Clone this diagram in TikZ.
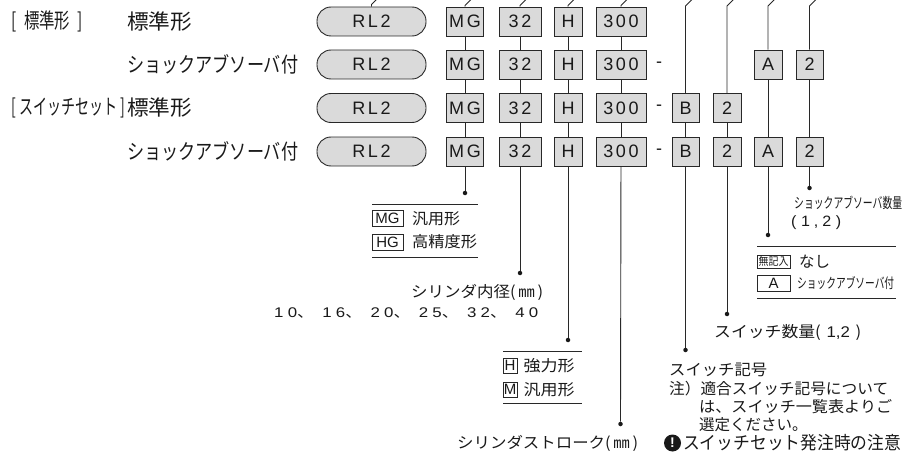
\documentclass[tikz,border=0pt]{standalone}
\usepackage{fontspec}
\usepackage{graphicx}
\setmainfont{Liberation Sans}
\newfontfamily\jp{Noto Sans CJK JP}
\newfontfamily\boxfont[LetterSpace=15]{Liberation Sans}
\newfontfamily\numfont[LetterSpace=25]{Liberation Sans}
\newcommand\wfit[2]{\resizebox{#1}{\height}{#2}}
\newcommand\fsz[1]{\fontsize{#1}{#1}\selectfont}
\definecolor{boxfill}{RGB}{218,218,218}
\definecolor{linec}{RGB}{40,40,40}
\definecolor{textc}{RGB}{25,25,25}
\tikzset{
  cell/.style={draw=linec, fill=boxfill, line width=0.9pt, minimum height=29pt, inner sep=0pt, font=\boxfont\fsz{18}, text=textc},
  pill/.style={cell, minimum width=109pt, rounded corners=14pt},
  colm/.style={cell, minimum width=37pt},
  cold/.style={cell, minimum width=42pt},
  colh/.style={cell, minimum width=28pt},
  cols/.style={cell, minimum width=50pt},
  colb/.style={cell, minimum width=27pt},
  colw/.style={cell, minimum width=28pt},
  cola/.style={cell, minimum width=28pt},
  colq/.style={cell, minimum width=27pt},
  dashtxt/.style={inner sep=0pt, font=\fsz{18}, text=textc},
  conn/.style={draw=linec, line width=0.9pt},
  dot/.style={circle, fill=textc, inner sep=0pt, minimum size=4.5pt},
  txt/.style={inner sep=0pt, anchor=west, text=textc},
  rowlab/.style={txt, font=\jp\fsz{21}},
  note/.style={txt, font=\jp\fsz{15.5}},
  legbox/.style={draw=linec, fill=white, line width=0.8pt, inner sep=0pt, text=textc, font=\fsz{15}},
  legline/.style={draw=linec, line width=1pt},
}
\begin{document}
\begin{tikzpicture}[x=1pt,y=-1pt]
\useasboundingbox (0,0) rectangle (903,452);
\clip (0,0) rectangle (903,452);

% left labels
\node[rowlab] (g1) at (11,21.5) {\wfit{72pt}{[\enspace 標準形\enspace]}};
\node[rowlab] (g2) at (11,108) {\wfit{114pt}{[ スイッチセット ]}};
\node[rowlab] (l1) at (127,21.5) {\wfit{65pt}{標準形}};
\node[rowlab] (l2) at (127,64.5) {\wfit{171pt}{ショックアブソーバ付}};
\node[rowlab] (l3) at (127,108) {\wfit{65pt}{標準形}};
\node[rowlab] (l4) at (127,151.5) {\wfit{171pt}{ショックアブソーバ付}};

% row 1
\node[pill] (p1) at (371.5,21.5) {RL2};
\node[colm] (m1) at (465,21.5) {MG};
\node[cold] (d1) at (520,21.5) {32};
\node[colh] (h1) at (568,21.5) {H};
\node[cols] (s1) at (621,21.5) {300};
% row 2
\node[pill] (p2) at (371.5,64.5) {RL2};
\node[colm] (m2) at (465,64.5) {MG};
\node[cold] (d2) at (520,64.5) {32};
\node[colh] (h2) at (568,64.5) {H};
\node[cols] (s2) at (621,64.5) {300};
\node[dashtxt] (x2) at (659,64.5) {-};
\node[cola] (a2) at (768,64.5) {A};
\node[colq] (q2) at (809.5,64.5) {2};
% row 3
\node[pill] (p3) at (371.5,108) {RL2};
\node[colm] (m3) at (465,108) {MG};
\node[cold] (d3) at (520,108) {32};
\node[colh] (h3) at (568,108) {H};
\node[cols] (s3) at (621,108) {300};
\node[dashtxt] (x3) at (659,108) {-};
\node[colb] (b3) at (685.5,108) {B};
\node[colw] (w3) at (727,108) {2};
% row 4
\node[pill] (p4) at (371.5,151.5) {RL2};
\node[colm] (m4) at (465,151.5) {MG};
\node[cold] (d4) at (520,151.5) {32};
\node[colh] (h4) at (568,151.5) {H};
\node[cols] (s4) at (621,151.5) {300};
\node[dashtxt] (x4) at (659,151.5) {-};
\node[colb] (b4) at (685.5,151.5) {B};
\node[colw] (w4) at (727,151.5) {2};
\node[cola] (a4) at (768,151.5) {A};
\node[colq] (q4) at (809.5,151.5) {2};

% vertical connectors between rows
\draw[conn] (m1) -- (m2) (m2) -- (m3) (m3) -- (m4);
\draw[conn] (d1) -- (d2) (d2) -- (d3) (d3) -- (d4);
\draw[conn] (h1) -- (h2) (h2) -- (h3) (h3) -- (h4);
\draw[conn] (s1) -- (s2) (s2) -- (s3) (s3) -- (s4);
\draw[conn] (b3) -- (b4);
\draw[conn] (w3) -- (w4);
\draw[conn] (a2) -- (a4);
\draw[conn] (q2) -- (q4);

% top leaders
\draw[conn] (p1.north) -- ++(0,-2) -- ++(7,-7);
\draw[conn] (m1.north) -- ++(0,-1) -- ++(7,-7);
\draw[conn] (d1.north) -- ++(0,-1) -- ++(7,-7);
\draw[conn] (h1.north) -- ++(0,-1) -- ++(7,-7);
\draw[conn] (s1.north) -- ++(0,-1) -- ++(7,-7);
\coordinate (bt) at (685.5,6);
\coordinate (wt) at (727,6);
\coordinate (at) at (768,6);
\coordinate (qt) at (809.5,6);
\draw[conn] (b3) -- (bt) -- ++(7,-7);
\draw[conn] (w3) -- (wt) -- ++(7,-7);
\draw[conn] (a2) -- (at) -- ++(7,-7);
\draw[conn] (q2) -- (qt) -- ++(7,-7);

% bottom leaders with dots
\node[dot] (mdot) at (465,193) {};
\node[dot] (ddot) at (520,273) {};
\node[dot] (hdot) at (568,340) {};
\node[dot] (sdot) at (620.5,424) {};
\node[dot] (bdot) at (685.5,350) {};
\node[dot] (wdot) at (727,314) {};
\node[dot] (adot) at (768,235) {};
\node[dot] (qdot) at (809.5,188) {};
\draw[conn] (m4) -- (mdot);
\draw[conn] (d4) -- (ddot);
\draw[conn] (h4) -- (hdot);
\draw[conn] (s4) -- (sdot);
\draw[conn] (b4) -- (bdot);
\draw[conn] (w4) -- (wdot);
\draw[conn] (a4) -- (adot);
\draw[conn] (q4) -- (qdot);

% MG legend
\draw[legline] (372,204) -- (478,204);
\draw[legline] (372,257) -- (478,257);
\node[legbox, minimum width=31pt, minimum height=16pt] (kmg) at (387.5,218) {MG};
\node[legbox, minimum width=31pt, minimum height=16pt] (khg) at (387.5,242) {HG};
\node[note] (tmg) at (412,219) {\wfit{48pt}{汎用形}};
\node[note] (thg) at (412,242) {\wfit{65pt}{高精度形}};

% bore
\node[note] (tbore) at (411,292) {\wfit{132pt}{シリンダ内径(\,㎜\,)}};
\node[txt, font=\numfont\fsz{14}] (tbn) at (274,313) {\wfit{264pt}{10{\jp 、}\hspace{7pt}16{\jp 、}\hspace{7pt}20{\jp 、}\hspace{7pt}25{\jp 、}\hspace{7pt}32{\jp 、}\hspace{7pt}40}};

% H legend
\draw[legline] (503,351) -- (582,351);
\draw[legline] (503,403) -- (582,403);
\node[legbox, minimum width=14pt, minimum height=15pt] (kh) at (510,365.5) {H};
\node[legbox, minimum width=14pt, minimum height=15pt] (km) at (510,389.5) {M};
\node[note] (th) at (523.5,366) {\wfit{51pt}{強力形}};
\node[note] (tm) at (523.5,390) {\wfit{51pt}{汎用形}};

% stroke
\node[note] (tstroke) at (457,443) {\wfit{181pt}{シリンダストローク(\,㎜\,)}};

% switch symbol
\node[note] (tsw) at (669,370) {\wfit{98pt}{スイッチ記号}};
\node[note] (tn1) at (669,388.5) {\wfit{219pt}{注）適合スイッチ記号について}};
\node[note] (tn2) at (699,407) {\wfit{193pt}{は、スイッチ一覧表よりご}};
\node[note] (tn3) at (699,424.5) {選定ください。};
\node[circle, fill=textc, text=white, inner sep=0pt, minimum size=17pt, font=\bfseries\fsz{14}] (warn) at (672.5,443) {!};
\node[txt, font=\jp\fsz{18}] (twarn) at (683,443) {\wfit{218pt}{スイッチセット発注時の注意}};

% switch count
\node[note] (tcnt) at (714,332) {\wfit{147pt}{スイッチ数量(\,{\fontspec{Liberation Sans}\,1,2}\,\,)}};

% A legend
\draw[legline] (757,246) -- (896,246);
\draw[legline] (757,298) -- (896,298);
\node[legbox, minimum width=33pt, minimum height=13pt, font=\jp\fsz{11}] (knone) at (773.5,261.5) {\wfit{30pt}{無記入}};
\node[legbox, minimum width=33pt, minimum height=16pt] (ka) at (773.5,283) {A};
\node[note] (tnone) at (799,261.5) {なし};
\node[txt, font=\jp\fsz{14}] (ta) at (797,283) {\wfit{97pt}{ショックアブソーバ付}};

% shock absorber count
\node[txt, font=\jp\fsz{14.5}] (tq) at (794,203) {\wfit{108pt}{ショックアブソーバ数量}};
\node[txt, font=\numfont\fsz{15}] (tq2) at (791,223) {\wfit{50pt}{(\;1,2\;)}};
\end{tikzpicture}
\end{document}
